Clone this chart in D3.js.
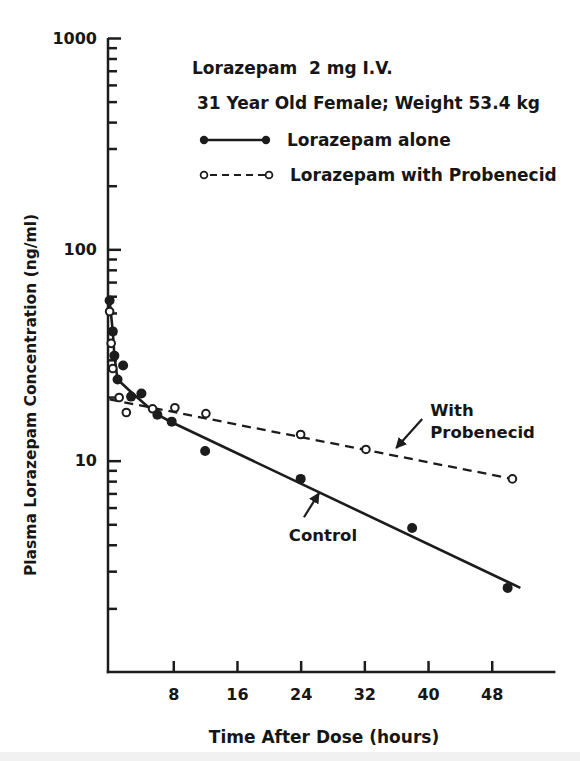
<!DOCTYPE html>
<html><head><meta charset="utf-8">
<script src="https://cdn.jsdelivr.net/npm/d3@7"></script>
<style>
html,body{margin:0;padding:0;background:#fff;}
svg{display:block;}
text{font-family:"DejaVu Sans",sans-serif;font-weight:bold;fill:#161616;}
</style></head><body>
<svg id="chart" width="580" height="761"></svg>
<script>
// Lorazepam alone: sampling time (h) and plasma concentration (ng/ml)
const aloneHours = [0, 0.4, 0.6, 1.0, 1.7, 2.7, 4.0, 6.0, 7.8, 12.0, 24.0, 38.0, 50.0];
const aloneConc  = [57.3, 40.9, 31.4, 24.2, 28.2, 20.1, 20.8, 16.5, 15.3, 11.1, 8.2, 4.8, 2.5];
// Lorazepam with probenecid
const probHours = [0, 0.2, 0.4, 1.2, 2.1, 5.4, 8.2, 12.1, 24.0, 32.2, 50.6];
const probConc  = [50.8, 35.9, 27.3, 19.9, 16.9, 17.6, 17.8, 16.7, 13.3, 11.3, 8.2];
// Fitted disposition curves drawn through the data
const aloneFitHours = [0, 0.4, 0.6, 1.0, 2.9, 5.9, 7.8, 51.6];
const aloneFitConc  = [57.3, 40.9, 31.4, 24.2, 20.8, 16.6, 15.2, 2.5];
const probFitHours  = [0, 50.6];
const probFitConc   = [19.5, 8.2];
// Axis ticks
const xTicks = [8, 16, 24, 32, 40, 48];
const yMajor = [10, 100, 1000];
const yMinor = [2,3,4,5,6,7,8,9,20,30,40,50,60,70,80,90,200,300,400,500,600,700,800,900];

const ink = "#1c1c1c";
const svg = d3.select("#chart");
svg.append("rect").attr("x",0).attr("y",752).attr("width",580).attr("height",9).attr("fill","#f1f1f1");

const x = d3.scaleLinear().domain([0, 56]).range([109.6, 555.4]);
const y = d3.scaleLog().domain([1, 1000]).range([672, 38]);
const axisX = 108;

// Y axis: ticks point into the plot, labels only on decades
const yAxis = d3.axisLeft(y)
  .tickValues(yMajor.concat(yMinor))
  .tickSizeInner(-9).tickSizeOuter(0).tickPadding(11)
  .tickFormat(d => yMajor.includes(d) ? String(d) : "");
const gy = svg.append("g").attr("transform", `translate(${axisX},0)`).call(yAxis);
gy.select(".domain").attr("d", `M0,${y.range()[1]}V${y.range()[0] + 1.25}`);
gy.selectAll(".tick line").attr("x2", d => yMajor.includes(d) ? 13 : 9);
gy.selectAll("path,line").attr("stroke", ink).attr("stroke-width", 2.5);
gy.selectAll("text").attr("font-size", 16).attr("font-family", "DejaVu Sans").attr("font-weight", "bold").attr("fill", ink);

// X axis
const xAxis = d3.axisBottom(x).tickValues(xTicks).tickSizeInner(-11).tickSizeOuter(0).tickPadding(16.5);
const gx = svg.append("g").attr("transform", `translate(0,${y(1)})`).call(xAxis);
gx.select(".domain").attr("d", `M${axisX - 1.25},0H${x.range()[1]}`);
gx.selectAll("path,line").attr("stroke", ink).attr("stroke-width", 2.5);
gx.selectAll("text").attr("font-size", 16).attr("font-family", "DejaVu Sans").attr("font-weight", "bold").attr("fill", ink);

// Axis titles
svg.append("text").attr("transform", `translate(36,${(y(1000)+y(1))/2 + 40}) rotate(-90)`)
  .attr("text-anchor", "middle").attr("font-size", 15.5).text("Plasma Lorazepam Concentration (ng/ml)");
svg.append("text").attr("x", 324).attr("y", 743).attr("text-anchor", "middle")
  .attr("font-size", 17).text("Time After Dose (hours)");

// Fitted lines
const line = d3.line().x(d => x(d[0])).y(d => y(d[1]));
svg.append("path").datum(d3.zip(aloneFitHours, aloneFitConc)).attr("d", line)
  .attr("fill", "none").attr("stroke", ink).attr("stroke-width", 2.6).attr("stroke-linejoin", "round");
svg.append("path").datum(d3.zip(probFitHours, probFitConc)).attr("d", line)
  .attr("fill", "none").attr("stroke", ink).attr("stroke-width", 2.3).attr("stroke-dasharray", "9,6");

// Data points
svg.append("g").selectAll("circle").data(d3.zip(probHours, probConc)).join("circle")
  .attr("cx", d => x(d[0])).attr("cy", d => y(d[1])).attr("r", 3.8)
  .attr("fill", "#fff").attr("stroke", ink).attr("stroke-width", 2);
svg.append("g").selectAll("circle").data(d3.zip(aloneHours, aloneConc)).join("circle")
  .attr("cx", d => x(d[0])).attr("cy", d => y(d[1])).attr("r", 5).attr("fill", ink);

// Leader arrows for the curve labels
svg.append("defs").append("marker").attr("id", "head").attr("viewBox", "0 0 10 10")
  .attr("refX", 9).attr("refY", 5).attr("markerWidth", 5).attr("markerHeight", 5)
  .attr("orient", "auto").append("path").attr("d", "M0,0L10,5L0,10z").attr("fill", ink);

const logInterp = (hs, cs, t) => Math.exp(Math.log(cs[0]) + (Math.log(cs[1]) - Math.log(cs[0])) * (t - hs[0]) / (hs[1] - hs[0]));
const probTip = [x(36), y(logInterp(probFitHours, probFitConc, 36)) - 8];
svg.append("line").attr("x1", probTip[0] + 26).attr("y1", probTip[1] - 29)
  .attr("x2", probTip[0]).attr("y2", probTip[1])
  .attr("stroke", ink).attr("stroke-width", 2.2).attr("marker-end", "url(#head)");
svg.append("text").attr("x", probTip[0] + 34).attr("y", probTip[1] - 32).attr("font-size", 16.5).text("With");
svg.append("text").attr("x", probTip[0] + 34).attr("y", probTip[1] - 10).attr("font-size", 16.5).text("Probenecid");

const ctlTip = [x(26.3), y(logInterp(aloneFitHours.slice(6), aloneFitConc.slice(6), 26.3)) + 1];
svg.append("line").attr("x1", ctlTip[0] - 15).attr("y1", ctlTip[1] + 24)
  .attr("x2", ctlTip[0]).attr("y2", ctlTip[1])
  .attr("stroke", ink).attr("stroke-width", 2.2).attr("marker-end", "url(#head)");
svg.append("text").attr("x", ctlTip[0] + 4).attr("y", ctlTip[1] + 48).attr("text-anchor", "middle")
  .attr("font-size", 16.5).text("Control");

// Legend block
const lg = svg.append("g");
lg.append("text").attr("x", 192).attr("y", 74).attr("font-size", 17).attr("xml:space", "preserve").text("Lorazepam  2 mg I.V.");
lg.append("text").attr("x", 197).attr("y", 109).attr("font-size", 17).text("31 Year Old Female; Weight 53.4 kg");
lg.append("line").attr("x1", 204).attr("x2", 266).attr("y1", 140).attr("y2", 140).attr("stroke", ink).attr("stroke-width", 2.6);
lg.selectAll(".fd").data([204, 266]).join("circle").attr("cx", d => d).attr("cy", 140).attr("r", 4.2).attr("fill", ink);
lg.append("text").attr("x", 287).attr("y", 146).attr("font-size", 17).text("Lorazepam alone");
lg.append("line").attr("x1", 204).attr("x2", 269).attr("y1", 175).attr("y2", 175).attr("stroke", ink)
  .attr("stroke-width", 2.2).attr("stroke-dasharray", "7,5").attr("stroke-dashoffset", -6);
lg.selectAll(".od").data([204, 269]).join("circle").attr("cx", d => d).attr("cy", 175).attr("r", 3.4)
  .attr("fill", "#fff").attr("stroke", ink).attr("stroke-width", 1.8);
lg.append("text").attr("x", 290).attr("y", 181).attr("font-size", 17).text("Lorazepam with Probenecid");
</script>
</body></html>
